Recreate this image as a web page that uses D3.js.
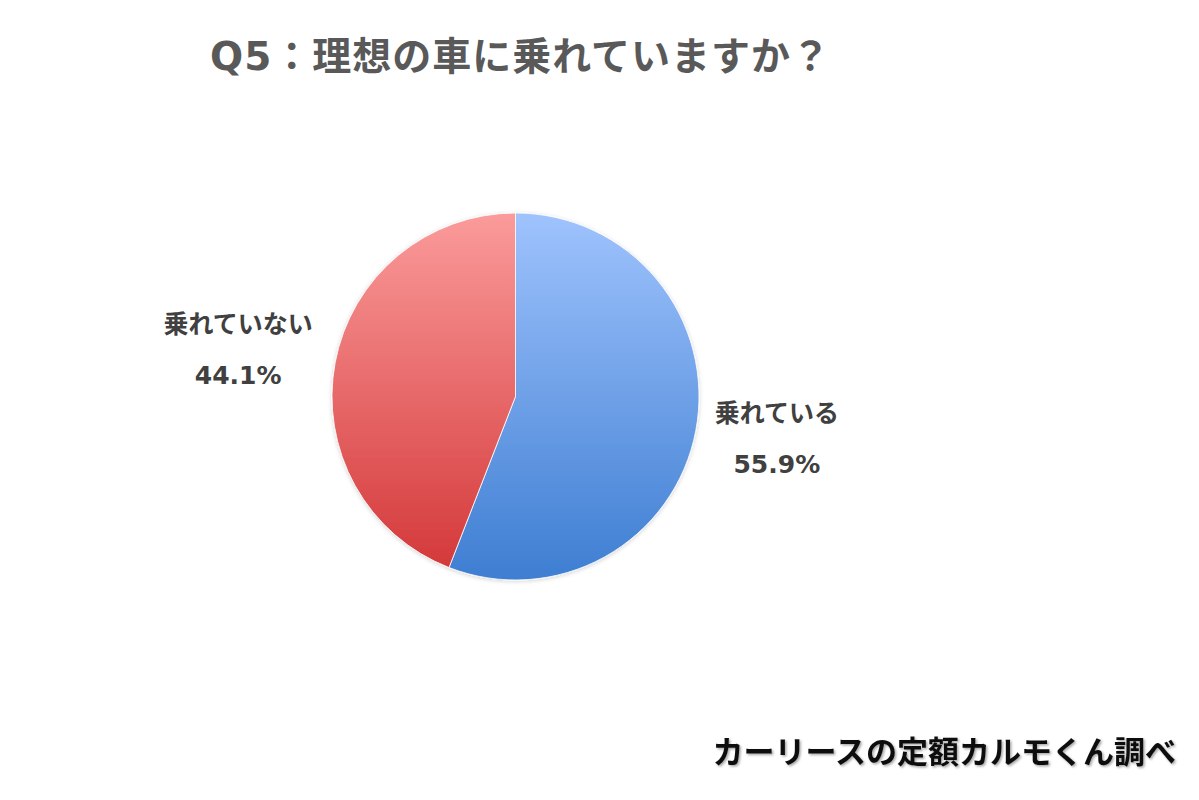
<!DOCTYPE html>
<html><head><meta charset="utf-8">
<script src="https://cdn.jsdelivr.net/npm/d3@7"></script>
<style>
html,body{margin:0;padding:0;background:#fff;}
svg{display:block;font-family:"DejaVu Sans","Noto Sans CJK JP",sans-serif;}
</style></head><body>
<svg id="chart" width="1199" height="800"></svg>
<script>
const title = "Q5：理想の車に乗れていますか？";
const categories = ["乗れている", "乗れていない"];
const values = [55.9, 44.1];
const source = "カーリースの定額カルモくん調べ";

const svg = d3.select("#chart");
const cx = 515.5, cy = 396.5, R = 183.5;

const defs = svg.append("defs");
const grads = [
  {id: "gBlue", top: "#9fc3fd", bottom: "#3e7ed2"},
  {id: "gRed", top: "#fb9b9b", bottom: "#d4393a"}
];
grads.forEach(g => {
  const lg = defs.append("linearGradient").attr("id", g.id)
    .attr("x1", 0).attr("y1", 0).attr("x2", 0).attr("y2", 1);
  lg.append("stop").attr("offset", "0%").attr("stop-color", g.top);
  lg.append("stop").attr("offset", "100%").attr("stop-color", g.bottom);
});
const f = defs.append("filter").attr("id", "sh").attr("x", "-10%").attr("y", "-10%").attr("width", "120%").attr("height", "120%");
f.append("feDropShadow").attr("dx", 0).attr("dy", 1).attr("stdDeviation", 2).attr("flood-color", "#000").attr("flood-opacity", 0.18);
const ft = defs.append("filter").attr("id", "tsh").attr("x", "-5%").attr("y", "-20%").attr("width", "110%").attr("height", "140%");
ft.append("feDropShadow").attr("dx", 1.5).attr("dy", 1.5).attr("stdDeviation", 1.2).attr("flood-color", "#000").attr("flood-opacity", 0.35);

svg.append("text")
  .attr("x", 210).attr("y", 70)
  .attr("font-size", 39).attr("font-weight", "bold").attr("fill", "#595959")
  .attr("letter-spacing", 1)
  .text(title);

const pie = d3.pie().sort(null).value(d => d)(values);
const arc = d3.arc().innerRadius(0).outerRadius(R);
const fills = ["url(#gBlue)", "url(#gRed)"];

const g = svg.append("g").attr("transform", `translate(${cx},${cy})`).attr("filter", "url(#sh)");
g.selectAll("path").data(pie).join("path")
  .attr("d", arc)
  .attr("fill", (d, i) => fills[i])
  .attr("stroke", "#fff").attr("stroke-width", 0.8);

const labelR = 272;
const lab = svg.append("g").attr("transform", `translate(${cx},${cy})`);
pie.forEach((d, i) => {
  const a = (d.startAngle + d.endAngle) / 2;
  const x = labelR * Math.sin(a) - (i === 0 ? 6 : 10);
  const y = -labelR * Math.cos(a) + (i === 0 ? -8 : 4);
  const t = lab.append("text").attr("text-anchor", "middle")
    .attr("font-weight", "bold").attr("fill", "#404040");
  t.append("tspan").attr("x", x).attr("y", y - 17).attr("font-size", 25).text(categories[i]);
  t.append("tspan").attr("x", x).attr("y", y + 34).attr("font-size", 25).text(d3.format(".1f")(values[i]) + "%");
});

svg.append("text")
  .attr("x", 1176).attr("y", 763).attr("text-anchor", "end")
  .attr("font-size", 31).attr("font-weight", "bold").attr("fill", "#111")
  .attr("filter", "url(#tsh)")
  .text(source);
</script>
</body></html>
